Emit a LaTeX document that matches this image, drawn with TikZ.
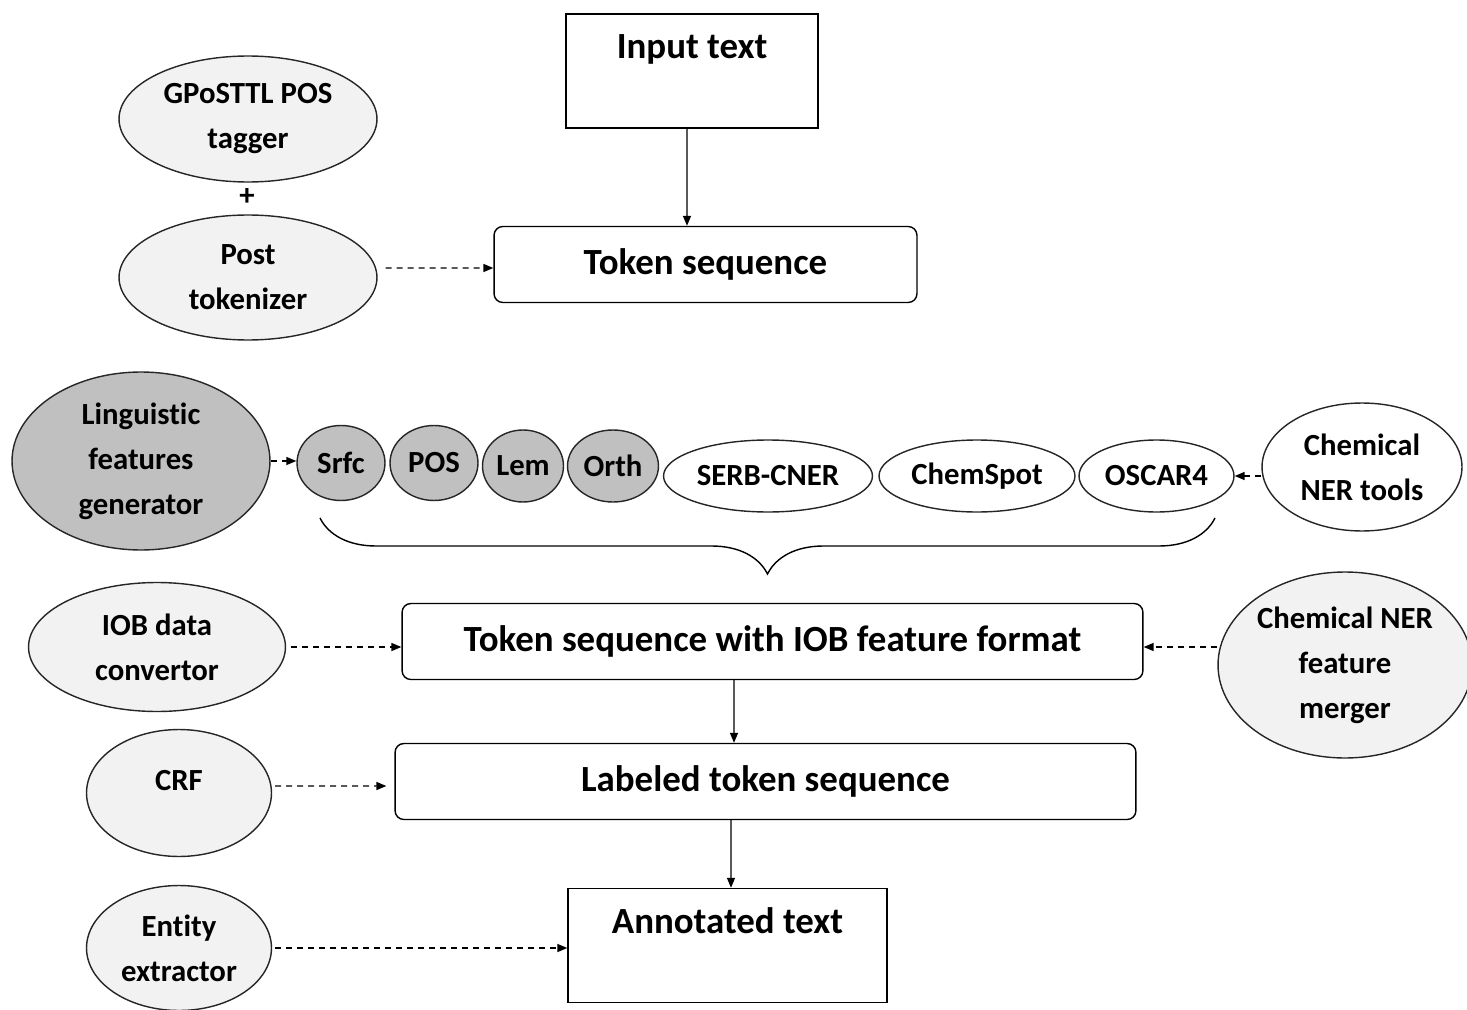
\documentclass[tikz,border=0pt]{standalone}
\usepackage{fontspec}
\setmainfont{Carlito}[Ligatures=NoCommon]
\usepackage{xcolor}
\usetikzlibrary{shapes.geometric,arrows.meta,decorations.pathreplacing}
\definecolor{toolgray}{HTML}{F2F2F2}
\definecolor{featgray}{HTML}{C0C0C0}

\begin{document}
\begin{tikzpicture}[x=0.02cm, y=-0.02cm, line width=0.8pt,
    stepbox/.style={draw, rounded corners=5pt, minimum height=1.52cm, font=\fontsize{21}{25}\selectfont\bfseries},
    textbox/.style={draw, inner sep=0pt, text height=0.9cm, text depth=1.38cm, font=\fontsize{21}{25}\selectfont\bfseries},
    tool/.style={ellipse, draw=black!85, fill=toolgray, inner sep=0pt, align=center, font=\fontsize{17.5}{25.6}\selectfont\bfseries},
    feat/.style={tool, fill=featgray},
    dasharr/.style={dash pattern=on 0.12cm off 0.1cm, -{Triangle[length=0.2cm,width=0.16cm]}},
    solidarr/.style={-{Triangle[length=0.2cm,width=0.16cm]}}]
    \useasboundingbox (0,0) rectangle (1467,1010);

    % main pipeline
    \node[textbox, minimum width=5.04cm] (input) at (692,71) {Input text};
    \node[stepbox, minimum width=8.46cm] (tok) at (705.5,264.5) {Token sequence};
    \node[stepbox, minimum width=14.82cm] (iob) at (772.5,641.5) {Token sequence with IOB feature format};
    \node[stepbox, minimum width=14.82cm] (lab) at (765.5,781.5) {Labeled token sequence};
    \node[textbox, minimum width=6.38cm] (ann) at (727.5,945.5) {Annotated text};

    % tools on the left and right
    \node[tool, minimum width=5.16cm, minimum height=2.52cm] (tagger) at (248,119) {GPoSTTL POS\\tagger};
    \node[font=\fontsize{17.5}{20}\selectfont\bfseries] (plus) at (247,197) {+};
    \node[tool, minimum width=5.16cm, minimum height=2.5cm] (post) at (248,277.5) {Post\\tokenizer};
    \node[feat, minimum width=5.16cm, minimum height=3.56cm] (ling) at (141,461) {Linguistic\\features\\generator};
    \node[tool, fill=white, minimum width=4.0cm, minimum height=2.56cm] (ner) at (1362,467) {Chemical\\NER tools};
    \node[tool, minimum width=5.14cm, minimum height=2.58cm] (conv) at (157,647) {IOB data\\convertor};
    \node[tool, minimum width=5.08cm, minimum height=3.72cm] (merger) at (1345,665) {Chemical NER\\feature\\merger};
    \node[tool, minimum width=3.7cm, minimum height=2.54cm, text height=0.4cm, text depth=0.52cm] (crf) at (179,793) {CRF};
    \node[tool, minimum width=3.7cm, minimum height=2.5cm] (ent) at (179,948) {Entity\\extractor};

    % feature row
    \node[feat, minimum width=1.76cm, minimum height=1.5cm] (srfc) at (341,463) {Srfc};
    \node[feat, minimum width=1.76cm, minimum height=1.5cm] (pos) at (434,463) {POS};
    \node[feat, minimum width=1.62cm, minimum height=1.44cm] (lem) at (523,466) {Lem};
    \node[feat, minimum width=1.82cm, minimum height=1.44cm] (orth) at (613,466) {Orth};
    \node[tool, fill=white, minimum width=4.18cm, minimum height=1.44cm] (serb) at (768,476) {SERB-CNER};
    \node[tool, fill=white, minimum width=3.92cm, minimum height=1.44cm] (chem) at (977,476) {ChemSpot};
    \node[tool, fill=white, minimum width=3.1cm, minimum height=1.44cm] (oscar) at (1156.5,476) {OSCAR4};
    \draw[decorate, decoration={brace, mirror, amplitude=1.12cm}] (320,518) -- (1215,518);

    % connectors
    \draw[solidarr] ([xshift=-0.1cm]input.south) -- ([xshift=-0.37cm]tok.north);
    \draw[dasharr] ([shift={(0.16cm,0.19cm)}]post.east) -- ([yshift=-0.07cm]tok.west);
    \draw[dasharr] (ling.east) -- (ling.east -| srfc.west);
    \draw[dasharr] (oscar.east -| ner.west) -- (oscar.east);
    \draw[dasharr] ([xshift=0.1cm]conv.east) -- (conv.east -| iob.west);
    \draw[dasharr] (conv.east -| merger.west) -- (conv.east -| iob.east);
    \draw[solidarr] ([xshift=-0.77cm]iob.south) -- ([xshift=-0.63cm]lab.north);
    \draw[dasharr] ([shift={(0.06cm,0.14cm)}]crf.east) -- ([shift={(-0.16cm,-0.09cm)}]lab.west);
    \draw[solidarr] ([xshift=-0.69cm]lab.south) -- ([xshift=0.07cm]ann.north);
    \draw[dasharr] ([xshift=0.06cm]ent.east) -- (ent.east -| ann.west);
\end{tikzpicture}
\end{document}
